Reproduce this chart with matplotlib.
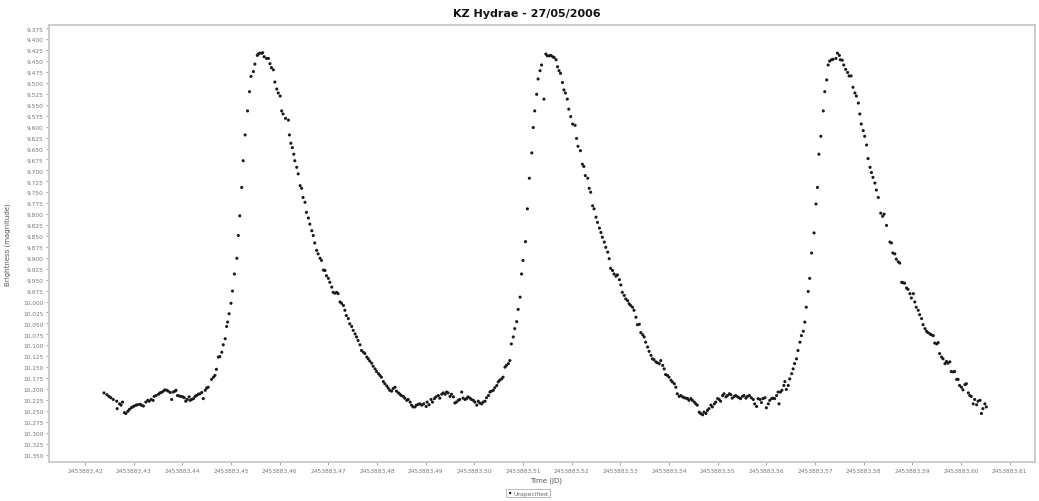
import matplotlib
matplotlib.use("Agg")
import matplotlib.pyplot as plt
import numpy as np

JD0 = 2453883.0

t_frac = [
    0.4239, 0.4245, 0.4249, 0.4253, 0.4258, 0.4265, 0.4266, 0.4271, 0.4274, 0.4277,
    0.4281, 0.4284, 0.4288, 0.4291, 0.4295, 0.4298, 0.4301, 0.4305, 0.4308, 0.4313,
    0.4316, 0.4320, 0.4325, 0.4329, 0.4332, 0.4336, 0.4340, 0.4342, 0.4346, 0.4351,
    0.4354, 0.4357, 0.4361, 0.4364, 0.4368, 0.4371, 0.4375, 0.4378, 0.4381, 0.4385,
    0.4387, 0.4390, 0.4394, 0.4397, 0.4401, 0.4404, 0.4407, 0.4410, 0.4414, 0.4416,
    0.4419, 0.4423, 0.4426, 0.4429, 0.4433, 0.4436, 0.4440, 0.4443, 0.4447, 0.4450,
    0.4453, 0.4460, 0.4464, 0.4467, 0.4470, 0.4474, 0.4477, 0.4481, 0.4484, 0.4488,
    0.4491, 0.4493, 0.4496, 0.4500, 0.4503, 0.4507, 0.4512, 0.4515, 0.4518, 0.4522,
    0.4525, 0.4529, 0.4534, 0.4538, 0.4541, 0.4546, 0.4549, 0.4554, 0.4556, 0.4559,
    0.4563, 0.4565, 0.4568, 0.4573, 0.4577, 0.4580, 0.4583, 0.4587, 0.4590, 0.4594,
    0.4597, 0.4601, 0.4604, 0.4607, 0.4612, 0.4618, 0.4620, 0.4623, 0.4626, 0.4629,
    0.4631, 0.4635, 0.4638, 0.4642, 0.4645, 0.4648, 0.4652, 0.4655, 0.4659, 0.4662,
    0.4666, 0.4669, 0.4672, 0.4676, 0.4679, 0.4683, 0.4686, 0.4690, 0.4693, 0.4696,
    0.4700, 0.4703, 0.4707, 0.4710, 0.4713, 0.4717, 0.4720, 0.4724, 0.4727, 0.4731,
    0.4734, 0.4737, 0.4741, 0.4744, 0.4748, 0.4751, 0.4755, 0.4758, 0.4761, 0.4765,
    0.4768, 0.4772, 0.4775, 0.4779, 0.4782, 0.4785, 0.4789, 0.4792, 0.4796, 0.4799,
    0.4803, 0.4806, 0.4809, 0.4813, 0.4816, 0.4820, 0.4823, 0.4826, 0.4830, 0.4833,
    0.4837, 0.4840, 0.4844, 0.4847, 0.4850, 0.4854, 0.4857, 0.4861, 0.4864, 0.4868,
    0.4871, 0.4874, 0.4878, 0.4881, 0.4885, 0.4888,
    0.4892, 0.4896, 0.4901, 0.4903, 0.4907, 0.4911, 0.4914, 0.4918, 0.4921, 0.4926,
    0.4929, 0.4933, 0.4936, 0.4940, 0.4943, 0.4946, 0.4950, 0.4953, 0.4957, 0.4960,
    0.4963, 0.4967, 0.4970, 0.4974, 0.4977, 0.4981, 0.4984, 0.4987, 0.4991, 0.4994,
    0.4998, 0.5001, 0.5005, 0.5008, 0.5011, 0.5015, 0.5018, 0.5022, 0.5025, 0.5029,
    0.5032, 0.5035, 0.5039, 0.5042, 0.5046, 0.5049, 0.5052, 0.5056, 0.5059, 0.5063,
    0.5066, 0.5070, 0.5073, 0.5076, 0.5080, 0.5083, 0.5087, 0.5090, 0.5094, 0.5097,
    0.5100, 0.5105, 0.5109, 0.5113, 0.5118, 0.5121, 0.5124, 0.5128, 0.5131, 0.5135,
    0.5138, 0.5143, 0.5147, 0.5150, 0.5154, 0.5157, 0.5161, 0.5164, 0.5168, 0.5171,
    0.5174, 0.5177, 0.5181, 0.5184, 0.5187, 0.5191, 0.5194, 0.5198, 0.5202, 0.5207,
    0.5210, 0.5213, 0.5218, 0.5222, 0.5225, 0.5228, 0.5233, 0.5236, 0.5239, 0.5243,
    0.5246, 0.5250, 0.5253, 0.5257, 0.5260, 0.5263, 0.5267, 0.5270, 0.5274, 0.5277,
    0.5280, 0.5284, 0.5287, 0.5291, 0.5294, 0.5298, 0.5301, 0.5304, 0.5308, 0.5311,
    0.5315, 0.5318, 0.5321, 0.5325, 0.5328, 0.5332, 0.5335, 0.5339, 0.5342, 0.5346,
    0.5349, 0.5352, 0.5356, 0.5359, 0.5363, 0.5366, 0.5369, 0.5373, 0.5376, 0.5380,
    0.5383, 0.5387, 0.5390, 0.5393, 0.5397, 0.5400, 0.5404, 0.5407, 0.5411, 0.5414,
    0.5417, 0.5421, 0.5424, 0.5428, 0.5431, 0.5435, 0.5438, 0.5441, 0.5445, 0.5448,
    0.5452, 0.5455, 0.5458, 0.5462, 0.5465, 0.5469, 0.5472, 0.5476, 0.5479, 0.5482,
    0.5486, 0.5489, 0.5493, 0.5496, 0.5500, 0.5503, 0.5506, 0.5510, 0.5513, 0.5517,
    0.5520, 0.5524, 0.5527, 0.5530, 0.5534, 0.5537, 0.5541, 0.5544, 0.5547, 0.5551,
    0.5554, 0.5558, 0.5561, 0.5565,
    0.5569, 0.5573, 0.5576, 0.5580, 0.5583, 0.5587, 0.5590, 0.5593, 0.5597, 0.5600,
    0.5604, 0.5607, 0.5611, 0.5614, 0.5617, 0.5621, 0.5624, 0.5626, 0.5629, 0.5632,
    0.5636, 0.5638, 0.5641, 0.5645, 0.5648, 0.5652, 0.5655, 0.5658, 0.5662, 0.5665,
    0.5669, 0.5672, 0.5676, 0.5679, 0.5682, 0.5686, 0.5689, 0.5693, 0.5698, 0.5702,
    0.5705, 0.5708, 0.5712, 0.5717, 0.5720, 0.5724, 0.5727, 0.5730, 0.5734, 0.5737,
    0.5743, 0.5746, 0.5750, 0.5752, 0.5756, 0.5759, 0.5763, 0.5767, 0.5770, 0.5774,
    0.5778, 0.5782, 0.5785, 0.5789, 0.5792, 0.5795, 0.5799, 0.5802, 0.5806, 0.5809,
    0.5813, 0.5816, 0.5819, 0.5823, 0.5826, 0.5830, 0.5835, 0.5839, 0.5842, 0.5847,
    0.5854, 0.5857, 0.5860, 0.5864, 0.5867, 0.5871, 0.5874, 0.5878, 0.5881, 0.5884,
    0.5888, 0.5891, 0.5895, 0.5898, 0.5902, 0.5905, 0.5908, 0.5912, 0.5915, 0.5919,
    0.5922, 0.5926, 0.5929, 0.5932, 0.5936, 0.5939, 0.5943, 0.5946, 0.5950, 0.5953,
    0.5956, 0.5960, 0.5963, 0.5967, 0.5970, 0.5973, 0.5977, 0.5980, 0.5984, 0.5987,
    0.5991, 0.5994, 0.5997, 0.6001, 0.6004, 0.6008, 0.6011, 0.6015, 0.6018, 0.6021,
    0.6025, 0.6028, 0.6032, 0.6035, 0.6039, 0.6042, 0.6045, 0.6049, 0.6052,
]

mag = [
    10.209, 10.213, 10.217, 10.220, 10.224, 10.228, 10.245, 10.234, 10.237, 10.230,
    10.254, 10.256, 10.251, 10.247, 10.243, 10.241, 10.239, 10.237, 10.236, 10.235,
    10.237, 10.239, 10.230, 10.226, 10.228, 10.224, 10.226, 10.217, 10.215, 10.212,
    10.209, 10.208, 10.205, 10.202, 10.203, 10.205, 10.208, 10.224, 10.207, 10.205,
    10.203, 10.215, 10.216, 10.217, 10.218, 10.220, 10.228, 10.224, 10.218, 10.226,
    10.224, 10.222, 10.217, 10.215, 10.212, 10.211, 10.208, 10.222, 10.203, 10.198,
    10.196, 10.178, 10.173, 10.169, 10.155, 10.127, 10.126, 10.116, 10.099, 10.085,
    10.057, 10.047, 10.028, 10.004, 9.976, 9.937, 9.901, 9.849, 9.804, 9.739,
    9.678, 9.619, 9.564, 9.520, 9.485, 9.474, 9.457, 9.437, 9.434, 9.432,
    9.432, 9.431, 9.440, 9.444, 9.444, 9.456, 9.465, 9.470, 9.498, 9.514,
    9.523, 9.530, 9.564, 9.571, 9.581, 9.585, 9.619, 9.638, 9.648, 9.663,
    9.678, 9.693, 9.708, 9.735, 9.741, 9.762, 9.773, 9.796, 9.809, 9.823,
    9.838, 9.849, 9.866, 9.883, 9.891, 9.901, 9.906, 9.928, 9.929, 9.941,
    9.947, 9.956, 9.967, 9.979, 9.981, 9.979, 9.982, 10.001, 10.004, 10.009,
    10.020, 10.032, 10.039, 10.051, 10.057, 10.066, 10.074, 10.081, 10.089, 10.099,
    10.112, 10.116, 10.119, 10.127, 10.131, 10.136, 10.141, 10.148, 10.154, 10.160,
    10.165, 10.169, 10.173, 10.183, 10.188, 10.193, 10.198, 10.203, 10.205, 10.199,
    10.196, 10.205, 10.209, 10.212, 10.215, 10.217, 10.221, 10.226, 10.224, 10.230,
    10.237, 10.241, 10.241, 10.237, 10.235, 10.234,
    10.237, 10.234, 10.240, 10.230, 10.236, 10.224, 10.230, 10.222, 10.218, 10.215,
    10.221, 10.212, 10.209, 10.212, 10.207, 10.209, 10.217, 10.212, 10.218, 10.232,
    10.230, 10.226, 10.224, 10.207, 10.221, 10.224, 10.222, 10.218, 10.221, 10.224,
    10.226, 10.230, 10.237, 10.228, 10.232, 10.234, 10.230, 10.228, 10.220, 10.215,
    10.207, 10.205, 10.203, 10.197, 10.192, 10.184, 10.180, 10.177, 10.173, 10.150,
    10.146, 10.142, 10.135, 10.097, 10.081, 10.062, 10.046, 10.018, 9.990, 9.937,
    9.906, 9.863, 9.788, 9.718, 9.660, 9.602, 9.564, 9.526, 9.491, 9.472,
    9.459, 9.537, 9.434, 9.438, 9.438, 9.437, 9.440, 9.442, 9.447, 9.463,
    9.472, 9.478, 9.499, 9.516, 9.523, 9.537, 9.560, 9.577, 9.594, 9.597,
    9.627, 9.645, 9.655, 9.686, 9.691, 9.712, 9.718, 9.741, 9.750, 9.781,
    9.788, 9.807, 9.819, 9.832, 9.842, 9.853, 9.864, 9.876, 9.887, 9.902,
    9.924, 9.929, 9.937, 9.942, 9.939, 9.950, 9.962, 9.979, 9.986, 9.994,
    9.998, 10.005, 10.009, 10.013, 10.020, 10.036, 10.053, 10.052, 10.071, 10.076,
    10.081, 10.093, 10.104, 10.114, 10.123, 10.131, 10.133, 10.138, 10.140, 10.142,
    10.135, 10.146, 10.154, 10.167, 10.169, 10.173, 10.180, 10.184, 10.188, 10.196,
    10.211, 10.217, 10.215, 10.218, 10.220, 10.221, 10.222, 10.226, 10.222, 10.226,
    10.230, 10.234, 10.237, 10.253, 10.256, 10.259, 10.253, 10.256, 10.249, 10.245,
    10.237, 10.241, 10.234, 10.230, 10.222, 10.224, 10.228, 10.215, 10.211, 10.218,
    10.215, 10.211, 10.213, 10.221, 10.217, 10.215, 10.218, 10.220, 10.222, 10.217,
    10.215, 10.221, 10.217, 10.215,
    10.220, 10.224, 10.234, 10.240, 10.222, 10.224, 10.231, 10.222, 10.220, 10.243,
    10.234, 10.226, 10.222, 10.221, 10.222, 10.215, 10.207, 10.234, 10.207, 10.203,
    10.192, 10.183, 10.201, 10.192, 10.177, 10.165, 10.154, 10.142, 10.131, 10.112,
    10.093, 10.078, 10.068, 10.047, 10.013, 9.977, 9.947, 9.889, 9.843, 9.777,
    9.739, 9.663, 9.622, 9.564, 9.520, 9.493, 9.459, 9.450, 9.447, 9.446,
    9.444, 9.432, 9.437, 9.447, 9.448, 9.459, 9.469, 9.476, 9.484, 9.484,
    9.510, 9.523, 9.530, 9.546, 9.571, 9.594, 9.609, 9.622, 9.642, 9.673,
    9.693, 9.705, 9.716, 9.729, 9.745, 9.762, 9.798, 9.805, 9.800, 9.826,
    9.864, 9.866, 9.889, 9.891, 9.903, 9.909, 9.912, 9.956, 9.957, 9.958,
    9.969, 9.972, 9.982, 9.992, 9.982, 10.001, 10.013, 10.020, 10.030, 10.039,
    10.053, 10.062, 10.068, 10.071, 10.074, 10.076, 10.078, 10.095, 10.097, 10.094,
    10.119, 10.127, 10.131, 10.142, 10.137, 10.141, 10.138, 10.160, 10.161, 10.160,
    10.178, 10.178, 10.192, 10.196, 10.202, 10.190, 10.188, 10.209, 10.215, 10.217,
    10.234, 10.224, 10.236, 10.228, 10.226, 10.256, 10.245, 10.234, 10.241,
]

x_ticks = [0.42, 0.43, 0.44, 0.45, 0.46, 0.47, 0.48, 0.49, 0.50, 0.51,
           0.52, 0.53, 0.54, 0.55, 0.56, 0.57, 0.58, 0.59, 0.60, 0.61]
y_ticks = np.arange(40) * 0.025 + 9.375

jd = JD0 + np.array(t_frac)

fig = plt.figure(figsize=(10.39, 5.02), dpi=100)
ax = fig.add_axes([49 / 1039, 1 - 463 / 502, 986 / 1039, 437 / 502])

ax.scatter(jd, mag, s=5, color='#1a1a1a', edgecolors='none', label='Unspecified')

ax.set_xlim(JD0 + 0.4126, JD0 + 0.6152)
ax.set_ylim(10.367, 9.3675)

ax.set_xticks([JD0 + v for v in x_ticks])
ax.set_xticklabels([f'{JD0 + v:.2f}'.replace('.', ',') for v in x_ticks])
ax.set_yticks(y_ticks)
ax.set_yticklabels([f'{v:.3f}'.replace('.', ',') for v in y_ticks])

ax.tick_params(axis='both', labelsize=4.2, colors='#999999', labelcolor='#777777',
               length=2, width=0.6, pad=2)
for s in ax.spines.values():
    s.set_color('#cccccc')
    s.set_linewidth(1.4)

fig.text(527 / 1039, 1 - 14 / 502, 'KZ Hydrae - 27/05/2006', ha='center', va='center',
         fontsize=8, fontweight='bold', color='#111111')
fig.text(8 / 1039, 0.513, 'Brightness (magnitude)', rotation=90, ha='center', va='center',
         fontsize=5, color='#555555')
fig.text(546 / 1039, 1 - 481 / 502, 'Time (JD)', ha='center', va='center',
         fontsize=5, color='#555555')

leg = fig.legend(loc='center', bbox_to_anchor=(528 / 1039, 1 - 494 / 502), fontsize=4.2,
                 frameon=True, fancybox=False, handletextpad=0.2, borderpad=0.3,
                 handlelength=0.8, markerscale=0.8, labelcolor='#666666')
leg.get_frame().set_edgecolor('#999999')
leg.get_frame().set_linewidth(0.6)

fig.savefig('out.png', dpi=100)
